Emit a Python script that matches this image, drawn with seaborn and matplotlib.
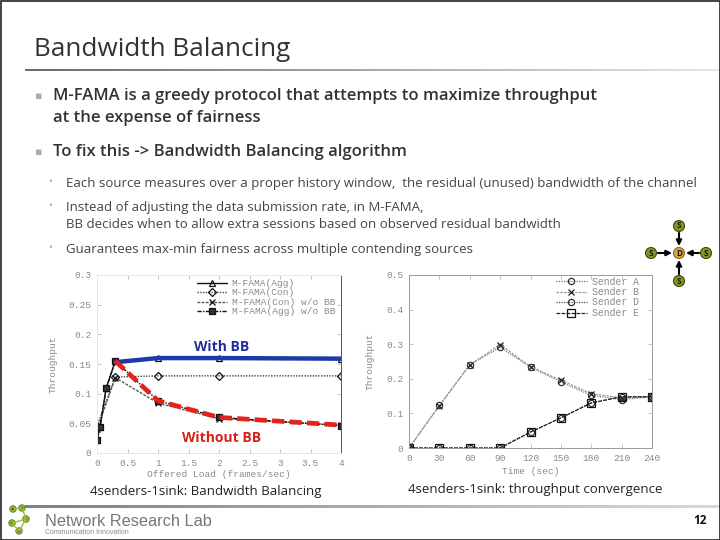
import matplotlib
matplotlib.use("Agg")
import matplotlib.pyplot as plt
import seaborn as sns
import numpy as np
import pandas as pd
from matplotlib.patches import Circle, Rectangle

# ---------------- data ----------------
load_agg = [0, 0.05, 0.15, 0.3, 1, 2, 4]
agg_bb = [0.022, 0.044, 0.109, 0.155, 0.160, 0.160, 0.159]
agg_nobb = [0.022, 0.044, 0.109, 0.155, 0.088, 0.060, 0.046]
load_con = [0, 0.3, 1, 2, 4]
con_bb = [0.045, 0.128, 0.130, 0.130, 0.130]
con_nobb = [0.040, 0.127, 0.084, 0.058, 0.047]
left_labels = ["M-FAMA(Agg)", "M-FAMA(Con)", "M-FAMA(Con) w/o BB", "M-FAMA(Agg) w/o BB"]

hl_x = [0.3, 1, 2, 4]
hl_with = [0.153, 0.160, 0.160, 0.159]
hl_without = [0.155, 0.088, 0.060, 0.047]

time_s = [0, 30, 60, 90, 120, 150, 180, 210, 240]
sender_a = [0, 0.123, 0.241, 0.291, 0.234, 0.191, 0.152, 0.140, 0.148]
sender_b = [0, 0.122, 0.240, 0.299, 0.235, 0.196, 0.157, 0.145, 0.148]
sender_d = [0, 0, 0, 0, 0.046, 0.087, 0.131, 0.148, 0.148]
sender_e = [0, 0, 0, 0, 0.046, 0.087, 0.130, 0.148, 0.148]
right_labels = ["Sender A", "Sender B", "Sender D", "Sender E"]

left_xticks = [0, 0.5, 1, 1.5, 2, 2.5, 3, 3.5, 4]
left_yticks = [0, 0.05, 0.1, 0.15, 0.2, 0.25, 0.3]
right_xticks = [0, 30, 60, 90, 120, 150, 180, 210, 240]
right_yticks = [0, 0.1, 0.2, 0.3, 0.4, 0.5]

# ---------------- figure ----------------
sns.set_theme(style="white")
plt.rcParams['font.family'] = ['Open Sans', 'DejaVu Sans']
W, H = 720, 540
fig = plt.figure(figsize=(7.2, 5.4), dpi=100)
fig.patch.set_facecolor("white")

def fax(x0, y0, x1, y1):
    return fig.add_axes([x0 / W, 1 - y1 / H, (x1 - x0) / W, (y1 - y0) / H])

mono = ['Liberation Mono', 'DejaVu Sans Mono']
gc = "#8a8a8a"

def style_axes(ax, box_color):
    ax.set_facecolor("none")
    for s in ax.spines.values():
        s.set_color(box_color)
        s.set_linewidth(0.7)
    ax.tick_params(direction="in", length=3, width=0.6, colors="#bbbbbb",
                   labelcolor=gc, labelsize=6.8, top=True, right=True,
                   bottom=True, left=True, pad=4)
    for lab in ax.get_xticklabels() + ax.get_yticklabels():
        lab.set_family(mono)

# ---- left chart ----
axL = fax(97, 275, 341, 453)
kw = dict(color="#111111", markersize=5, linewidth=1.0, markerfacecolor="none",
          markeredgecolor="#111111", markeredgewidth=0.9)
sns.lineplot(x=load_agg, y=agg_bb, ax=axL, marker="^", linestyle="-", label=left_labels[0], **kw)
sns.lineplot(x=load_con, y=con_bb, ax=axL, marker="D", linestyle=(0, (1, 1)), label=left_labels[1],
             **{**kw, "markersize": 4, "color": "#444444"})
sns.lineplot(x=load_con, y=con_nobb, ax=axL, marker="x", linestyle=(0, (2, 1)), label=left_labels[2],
             **{**kw, "color": "#555555"})
sns.lineplot(x=load_agg, y=agg_nobb, ax=axL, marker="s", linestyle=(0, (3, 1, 1, 1)), label=left_labels[3],
             **{**kw, "markerfacecolor": "#333333"})
sns.lineplot(x=hl_x, y=hl_with, ax=axL, color="#1c3aa8", linewidth=3.2)
sns.lineplot(x=hl_x, y=hl_without, ax=axL, color="#e3221c", linewidth=3.4, linestyle=(0, (2.6, 1.1)))
axL.set_xlim(0, 4)
axL.set_ylim(0, 0.3)
axL.set_xticks(left_xticks)
axL.set_xticklabels([f"{v:g}" for v in left_xticks])
axL.set_yticks(left_yticks)
axL.set_yticklabels([f"{v:g}" for v in left_yticks])
axL.set_xlabel("Offered Load (frames/sec)", family=mono, color=gc, fontsize=6.8, labelpad=2)
axL.set_ylabel("Throughput", family=mono, color=gc, fontsize=6.8, labelpad=8)
style_axes(axL, "#e6e6e6")
axL.spines["right"].set_color("#555555")
leg = axL.legend(loc="upper right", bbox_to_anchor=(1.0, 1.01), frameon=False,
                 handlelength=3.2, labelspacing=0.05, borderaxespad=0.2, handletextpad=0.5,
                 prop={"family": mono, "size": 6.8})
for t in leg.get_texts():
    t.set_color(gc)
axL.text(2.05, 0.178, "With BB", color="#1c2f9e", fontsize=10, fontweight="bold", ha="center",
         va="center", family=['Open Sans', 'DejaVu Sans'])
axL.text(2.05, 0.025, "Without BB", color="#d91f1a", fontsize=10, fontweight="bold", ha="center",
         va="center", family=['Open Sans', 'DejaVu Sans'])

# ---- right chart ----
axR = fax(409, 275, 652, 448)
kwr = dict(markersize=4.5, linewidth=0.9, markerfacecolor="none", markeredgewidth=0.9)
sns.lineplot(x=time_s, y=sender_a, ax=axR, marker="o", linestyle=(0, (1, 1)), color="#777777",
             markeredgecolor="#333333", label=right_labels[0], **kwr)
sns.lineplot(x=time_s, y=sender_b, ax=axR, marker="x", linestyle=(0, (2, 1)), color="#999999",
             markeredgecolor="#222222", label=right_labels[1], **kwr)
sns.lineplot(x=time_s, y=sender_d, ax=axR, marker="o", linestyle=(0, (1, 1)), color="#555555",
             markeredgecolor="#333333", label=right_labels[2], **kwr)
sns.lineplot(x=time_s, y=sender_e, ax=axR, marker="s", linestyle=(0, (3, 1)), color="#222222",
             markeredgecolor="#111111", label=right_labels[3], **{**kwr, "markersize": 5.5})
axR.set_xlim(0, 240)
axR.set_ylim(0, 0.5)
axR.set_xticks(right_xticks)
axR.set_xticklabels([str(v) for v in right_xticks])
axR.set_yticks(right_yticks)
axR.set_yticklabels([f"{v:g}" for v in right_yticks])
axR.set_xlabel("Time (sec)", family=mono, color=gc, fontsize=6.8, labelpad=3)
axR.set_ylabel("Throughput", family=mono, color=gc, fontsize=6.8, labelpad=8)
style_axes(axR, "#999999")
legR = axR.legend(loc="upper right", bbox_to_anchor=(0.97, 1.025), frameon=False, handlelength=3.2,
                  labelspacing=0.05, borderaxespad=0.2, handletextpad=0.5,
                  prop={"family": mono, "size": 7})
for t in legR.get_texts():
    t.set_color(gc)

# ---------------- slide overlay ----------------
ov = fig.add_axes([0, 0, 1, 1], zorder=5)
ov.set_facecolor("none")
ov.axis("off")

def hgrad(x0, x1, y, thick, c0, c1):
    g = np.linspace(c0, c1, 256)[None, :]
    ov.imshow(g, extent=[x0, x1, y + thick / 2, y - thick / 2], cmap="gray", vmin=0, vmax=1,
              aspect="auto", interpolation="bilinear")

hgrad(25, 720, 70, 2.0, 0.42, 0.9)
hgrad(25, 720, 507, 3.0, 0.5, 0.85)
ov.set_xlim(0, W)
ov.set_ylim(H, 0)

ov.add_patch(Rectangle((0.5, 0.5), W - 1, H - 1, fill=False, edgecolor="#222222", lw=1.2))
ov.text(34, 50, "Bandwidth Balancing", fontsize=18.8, color="#333333", va="center", ha="left")

bcol = "#333333"
ov.text(35, 96, "▪", fontsize=8, color="#aaaaaa", va="center", family="DejaVu Sans")
ov.text(53, 96, "M-FAMA is a greedy protocol that attempts to maximize throughput",
        fontsize=12, color=bcol, va="center", fontweight="semibold")
ov.text(53, 118, "at the expense of fairness", fontsize=12, color=bcol, va="center", fontweight="semibold")
ov.text(35, 152, "▪", fontsize=8, color="#aaaaaa", va="center", family="DejaVu Sans")
ov.text(53, 152, "To fix this -> Bandwidth Balancing algorithm", fontsize=12, color=bcol,
        va="center", fontweight="semibold")
scol = "#444444"
for y, t in [(183, "Each source measures over a proper history window,  the residual (unused) bandwidth of the channel"),
             (207, "Instead of adjusting the data submission rate, in M-FAMA,"),
             (249, "Guarantees max-min fairness across multiple contending sources")]:
    ov.text(48, y, "•", fontsize=7, color="#aaaaaa", va="center")
    ov.text(66, y, t, fontsize=9.5, color=scol, va="center")
ov.text(66, 224, "BB decides when to allow extra sessions based on observed residual bandwidth",
        fontsize=9.5, color=scol, va="center")

# network icon
center = (679, 253)
nodes = [(679, 226), (651, 253), (706, 253), (679, 281)]
for (nx, ny) in nodes:
    ov.annotate("", xy=center, xytext=(nx, ny),
                arrowprops=dict(arrowstyle="-|>", color="black", lw=1.5, shrinkA=5, shrinkB=5,
                                mutation_scale=8))
for (nx, ny) in nodes:
    ov.add_patch(Circle((nx, ny), 5.5, facecolor="#7f9a1e", edgecolor="#3a4a10", lw=0.8, zorder=6))
    ov.text(nx, ny, "S", fontsize=6, color="#1a1a1a", ha="center", va="center", fontweight="bold", zorder=7)
ov.add_patch(Circle(center, 5.5, facecolor="#d9a441", edgecolor="#8a6a20", lw=0.8, zorder=6))
ov.text(center[0], center[1], "D", fontsize=6, color="#1a1a1a", ha="center", va="center", fontweight="bold", zorder=7)

# captions
ov.text(206, 491, "4senders-1sink: Bandwidth Balancing", fontsize=9.5, color="#222222", ha="center", va="center")
ov.text(535, 490, "4senders-1sink: throughput convergence", fontsize=9.5, color="#222222", ha="center", va="center")

# logo
logo = [(13, 509), (22, 508), (26, 519), (12, 523), (19, 531)]
for (a, b), (c2, d) in zip(logo[:-1], logo[1:]):
    ov.plot([a, c2], [b, d], color="#9bbf3a", lw=1)
ov.plot([19, 26], [531, 519], color="#9bbf3a", lw=1)
for (a, b) in logo:
    ov.add_patch(Circle((a, b), 3.2, facecolor="#a8c84a", edgecolor="#4a6a10", lw=0.6))
    ov.add_patch(Circle((a, b), 1.4, facecolor="#222222", edgecolor="none"))
ov.text(45, 522, "Network Research Lab", fontsize=11.8, color="#777777", va="center",
        family=['Liberation Sans', 'DejaVu Sans'])
ov.text(45, 533, "Communication Innovation", fontsize=5, color="#888888", va="center",
        family=['Liberation Sans', 'DejaVu Sans'])
ov.text(707, 521, "12", fontsize=8.5, color="#111111", va="center", ha="right", fontweight="bold")

fig.savefig("out.png", dpi=100)
